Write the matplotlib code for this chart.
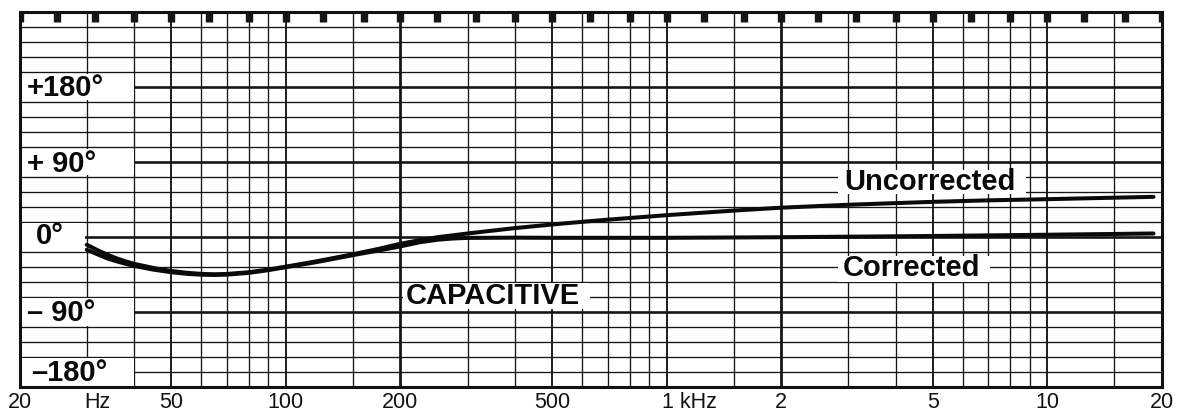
import numpy as np
import matplotlib
matplotlib.use("Agg")
import matplotlib.pyplot as plt
from matplotlib.patches import Rectangle
from matplotlib.transforms import blended_transform_factory
from matplotlib.ticker import NullLocator

# ---------------- data ----------------
freq_unc = [30, 32, 34, 36, 38, 40, 45, 50, 55, 60, 65, 70, 80, 90, 100, 120,
            150, 175, 200, 225, 250, 300, 350, 400, 500, 600, 700, 850, 1000,
            1500, 2000, 3000, 5000, 7000, 10000, 15000, 19000]
phase_unc = [-9.5, -16, -21.5, -26, -29.5, -32.5, -37.5, -41, -43.2, -44.5,
             -45, -44.6, -42.5, -39.3, -35.8, -29.5, -21, -14.5, -8.3, -4,
             -0.5, 4, 7.5, 10.5, 14.8, 18, 20.6, 23.5, 26, 31.5, 35, 38.5, 42,
             43.8, 45.2, 47, 48]

freq_cor = [30, 32, 34, 36, 38, 40, 45, 50, 55, 60, 65, 70, 80, 90, 100, 120,
            150, 175, 200, 225, 250, 275, 300, 400, 500, 1000, 2000, 5000,
            10000, 19000]
phase_cor = [-15.5, -21, -26, -29.5, -32.5, -35, -39.5, -42.5, -44.5, -45.5,
             -45.8, -45.4, -43.3, -40, -36.5, -30.5, -22, -16.5, -11.5, -6.5,
             -3.5, -2, -1.3, -1, -1.2, -1.2, -0.5, 1, 2.5, 4]

marker_freqs = [20, 25, 31.5, 40, 50, 63, 80, 100, 125, 160, 200, 250, 315, 400,
                500, 630, 800, 1000, 1250, 1600, 2000, 2500, 3150, 4000, 5000,
                6300, 8000, 10000, 12500, 16000, 20000]

grid_freqs = [30, 40, 50, 60, 70, 80, 90, 100, 150, 200, 300, 400, 500, 600, 700,
              800, 900, 1000, 1500, 2000, 3000, 4000, 5000, 6000, 7000, 8000,
              9000, 10000, 15000]
thick_freqs = [200, 2000]
medium_freqs = [50, 100, 500, 1000, 5000, 10000]

phase_levels = list(range(-180, 271, 18))
major_phases = [-90, 0, 90, 180]

x_tick_pos = [20, 32, 50, 100, 200, 500, 2000, 5000, 10000, 20000]
x_tick_lab = ["20", "Hz", "50", "100", "200", "500", "2", "5", "10", "20"]

y_labels = ["+180°", "+ 90°", "0°", "– 90°", "–180°"]

# ---------------- figure ----------------
W, H = 1178, 413
fig = plt.figure(figsize=(W / 100, H / 100), dpi=100)
L, R, T, B = 19.7, 1162, 12, 386.7
ax = fig.add_axes([L / W, 1 - B / H, (R - L) / W, (B - T) / H])
ax.set_xscale("log")
ax.set_xlim(20, 20000)
ax.set_ylim(-180, 270)
ax.xaxis.set_major_locator(NullLocator())
ax.xaxis.set_minor_locator(NullLocator())
ax.yaxis.set_major_locator(NullLocator())
ax.yaxis.set_minor_locator(NullLocator())
for s in ax.spines.values():
    s.set_linewidth(2.2)
    s.set_color("#111111")
    s.set_zorder(6)

ink = "#161616"
# vertical grid
for f in grid_freqs:
    lw = 2.0 if f in thick_freqs else (1.35 if f in medium_freqs else 0.95)
    ax.axvline(f, color=ink, lw=lw, zorder=1)
# horizontal grid
for p in phase_levels:
    lw = 1.9 if p in major_phases else 0.95
    ax.axhline(p, color=ink, lw=lw, zorder=1)

# top markers
ax.vlines(marker_freqs, 258.5, 270, color=ink, lw=5.3, zorder=5)

# white label boxes (cover the grid)
def box(x0, x1, y0, y1):
    ax.add_patch(Rectangle((x0, y0), x1 - x0, y1 - y0, facecolor="white",
                           edgecolor="none", zorder=2))

box(20.2, 40, 164, 196)
box(20.2, 40, 74, 106)
box(20.2, 29.6, -16, 16)
box(20.2, 40, -107, -74)
box(20.2, 40, -179, -146)
box(2811, 8810, 51, 80)
box(2811, 7048, -54.6, -23.4)
box(203, 628, -87, -56)

bold = dict(family=["Liberation Sans", "DejaVu Sans"], weight="bold",
            size=21, color="#0a0a0a", zorder=4, va="center", ha="left")
ax.text(20.9, 179, y_labels[0], **bold)
ax.text(20.9, 88, y_labels[1], **bold)
ax.text(22.0, 0.5, y_labels[2], **bold)
ax.text(20.9, -92, y_labels[3], **bold)
ax.text(21.4, -163, y_labels[4], **bold)

ax.text(2920, 65.5, "Uncorrected", **bold)
ax.text(2900, -38, "Corrected", **bold)
ax.text(206, -71.5, "CAPACITIVE", **bold)

# curves
ax.plot(freq_unc, phase_unc, color="#0a0a0a", lw=2.9, zorder=3,
        solid_capstyle="round", solid_joinstyle="round")
ax.plot(freq_cor, phase_cor, color="#0a0a0a", lw=2.9, zorder=3,
        solid_capstyle="round", solid_joinstyle="round")

# bottom labels
trans = blended_transform_factory(ax.transData, ax.transAxes)
reg = dict(family=["Liberation Sans", "DejaVu Sans"], size=15.5,
           color="#111111", va="center", transform=trans)
yb = -0.0435
for x, lab in zip(x_tick_pos, x_tick_lab):
    ax.text(x, yb, lab, ha="center", **reg)
ax.text(970, yb, "1 kHz", ha="left", **reg)

fig.savefig("out.png", dpi=100)
